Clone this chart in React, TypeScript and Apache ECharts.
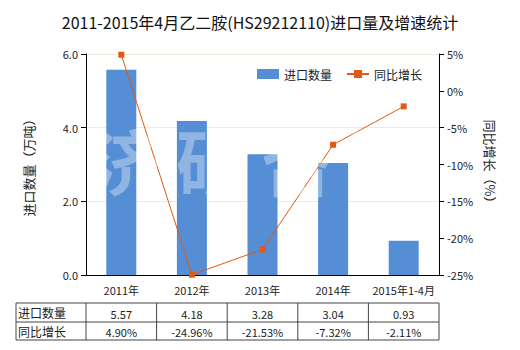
import React, { useEffect, useRef } from "react";
import * as echarts from "echarts";

const categories = ["2011年", "2012年", "2013年", "2014年", "2015年1-4月"];
const importQty = [5.57, 4.18, 3.28, 3.04, 0.93];
const growth = [4.9, -24.96, -21.53, -7.32, -2.11];
const qtyLabels = ["5.57", "4.18", "3.28", "3.04", "0.93"];
const growthLabels = ["4.90%", "-24.96%", "-21.53%", "-7.32%", "-2.11%"];
const rowNames = ["进口数量", "同比增长"];
const watermarkChars = ["济", "研", "咨", "询"];

const W = 520;
const H = 350;
const GL = 86;
const GR = 439;
const GT = 54;
const GB = 275;

const BAR = "#558ED5";
const LINE = "#DF5A14";
const FONT = "'Noto Sans CJK SC', sans-serif";

export default function App() {
  const ref = useRef<HTMLDivElement>(null);
  useEffect(() => {
    if (!ref.current) return;
    const chart = echarts.init(ref.current, undefined, { renderer: "svg" });
    const colW = (GR - GL) / categories.length;
    const tTop = 303;
    const tMid = 322;
    const tBot = 340;
    const tLeft = 16;
    const graphics: any[] = [];
    graphics.push({
      type: "rect",
      shape: { x: tLeft, y: tTop, width: GR - tLeft, height: tBot - tTop },
      style: { fill: "none", stroke: "#444", lineWidth: 1 },
      silent: true,
    });
    graphics.push({
      type: "line",
      shape: { x1: tLeft, y1: tMid, x2: GR, y2: tMid },
      style: { stroke: "#444", lineWidth: 1 },
      silent: true,
    });
    for (let i = 0; i < categories.length; i++) {
      const x = GL + colW * i;
      graphics.push({
        type: "line",
        shape: { x1: x, y1: tTop, x2: x, y2: tBot },
        style: { stroke: "#444", lineWidth: 1 },
        silent: true,
      });
      graphics.push({
        type: "text",
        x: x + colW / 2,
        y: (tTop + tMid) / 2 + 1,
        style: { text: qtyLabels[i], fill: "#222", font: `11px ${FONT}`, align: "center", verticalAlign: "middle" },
        silent: true,
      });
      graphics.push({
        type: "text",
        x: x + colW / 2,
        y: (tMid + tBot) / 2 + 1,
        style: { text: growthLabels[i], fill: "#222", font: `11px ${FONT}`, align: "center", verticalAlign: "middle" },
        silent: true,
      });
    }
    rowNames.forEach((n, r) => {
      graphics.push({
        type: "text",
        x: tLeft + 2,
        y: r === 0 ? (tTop + tMid) / 2 : (tMid + tBot) / 2,
        style: { text: n, fill: "#222", font: `12px ${FONT}`, align: "left", verticalAlign: "middle" },
        silent: true,
      });
    });
    const wmX = [127, 212, 297, 382];
    watermarkChars.forEach((c, i) => {
      graphics.push({
        type: "text",
        x: wmX[i],
        y: 158,
        z: 100,
        style: {
          text: c,
          fill: "rgba(255,255,255,0.35)",
          stroke: "rgba(0,0,0,0.012)",
          lineWidth: 1,
          font: `bold 72px ${FONT}`,
          align: "center",
          verticalAlign: "middle",
        },
        silent: true,
      });
    });

    chart.setOption({
      animation: false,
      textStyle: { fontFamily: FONT },
      title: {
        text: "2011-2015年4月乙二胺(HS29212110)进口量及增速统计",
        left: "center",
        top: 9,
        textStyle: { fontSize: 16, fontWeight: "normal", color: "#111", fontFamily: FONT },
      },
      legend: {
        top: 63,
        left: 252,
        itemWidth: 22,
        itemHeight: 10,
        itemGap: 14,
        textStyle: { fontSize: 12, color: "#222" },
        data: [
          { name: "进口数量", icon: "rect" },
          { name: "同比增长" },
        ],
      },
      grid: { left: GL, right: W - GR, top: GT, bottom: H - GB, containLabel: false },
      xAxis: {
        type: "category",
        data: categories,
        axisLine: { lineStyle: { color: "#000" } },
        axisTick: { alignWithLabel: false, lineStyle: { color: "#000" } },
        axisLabel: { color: "#222", fontSize: 11, margin: 9, interval: 0 },
      },
      yAxis: [
        {
          type: "value",
          min: 0,
          max: 6,
          interval: 2,
          name: "进口数量（万吨）",
          nameLocation: "middle",
          nameRotate: 90,
          nameGap: 51,
          nameTextStyle: { fontSize: 13, color: "#222" },
          axisLine: { show: true, lineStyle: { color: "#000" } },
          axisTick: { show: true, lineStyle: { color: "#000" } },
          axisLabel: { color: "#222", fontSize: 11, formatter: (v: number) => v.toFixed(1) },
          splitLine: { show: true, lineStyle: { color: "#EDEBDD" } },
        },
        {
          type: "value",
          min: -25,
          max: 5,
          interval: 5,
          name: "同比增长（%）",
          nameLocation: "middle",
          nameRotate: -90,
          nameGap: 43,
          nameTextStyle: { fontSize: 13, color: "#222" },
          axisLine: { show: true, lineStyle: { color: "#000" } },
          axisTick: { show: true, lineStyle: { color: "#000" } },
          axisLabel: { color: "#222", fontSize: 11, formatter: (v: number) => `${v}%` },
          splitLine: { show: false },
        },
      ],
      series: [
        {
          name: "进口数量",
          type: "bar",
          data: importQty,
          barWidth: 30,
          itemStyle: { color: BAR },
        },
        {
          name: "同比增长",
          type: "line",
          yAxisIndex: 1,
          data: growth,
          symbol: "rect",
          symbolSize: 6,
          lineStyle: { color: LINE, width: 1 },
          itemStyle: { color: LINE },
        },
      ],
      graphic: graphics,
    });
    return () => chart.dispose();
  }, []);
  return <div ref={ref} style={{ width: W, height: H, position: "absolute", left: 0, top: 0 }} />;
}
